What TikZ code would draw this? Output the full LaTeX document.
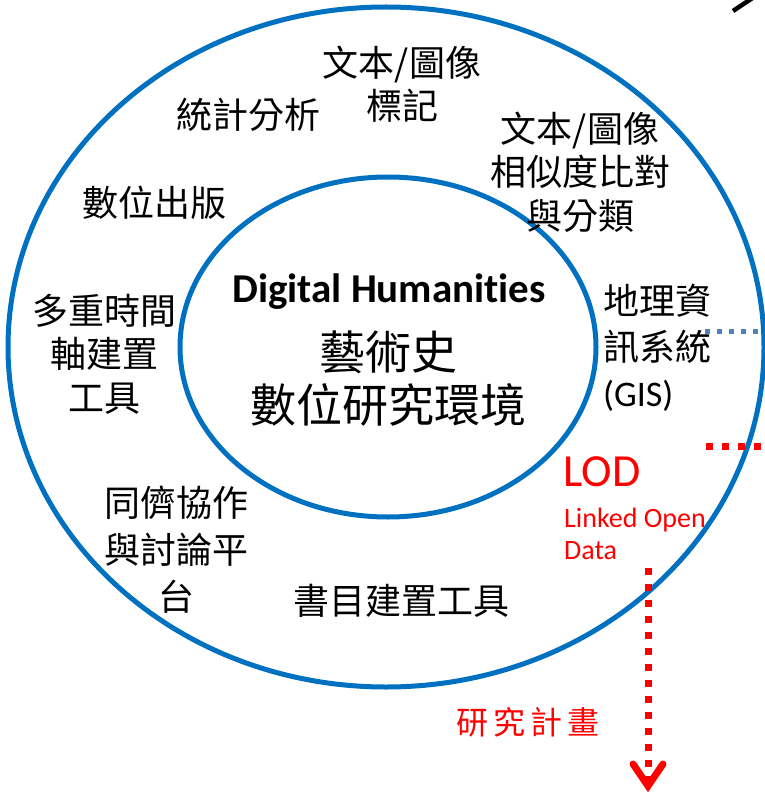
\documentclass[tikz,border=0pt]{standalone}
\usepackage{fontspec}
\setmainfont{Carlito}[Ligatures=NoCommon]
\newfontfamily\cjk{Noto Sans CJK TC}
\usetikzlibrary{shapes.geometric,calc}
\definecolor{ringblue}{HTML}{0070C0}
\definecolor{dotblue}{HTML}{4F81BD}
\definecolor{lodred}{HTML}{FF0000}
\begin{document}
\begin{tikzpicture}[x=1pt,y=-1pt,
  ring/.style={draw=ringblue,line width=5pt,ellipse,inner sep=0pt},
  lbl/.style={inner sep=0pt,align=center,font=\cjk\fontsize{36}{43.5}\selectfont,text=black},
  redlbl/.style={inner sep=0pt,text=lodred}
]
\useasboundingbox (0,0) rectangle (764,794);
\node[ring,minimum width=756pt,minimum height=680pt] (outer) at (386,347) {};
\node[ring,minimum width=416pt,minimum height=340pt] (inner) at (388,347) {};

\node[lbl] (tongji) at (248,115) {統計分析};
\node[lbl] (biaoji) at (402,84) {文本/圖像\\標記};
\node[lbl] (xiangsi) at (580,172) {文本/圖像\\相似度比對\\與分類};
\node[lbl] (chuban) at (154,203) {數位出版};
\node[lbl] (shijian) at (104,354) {多重時間\\軸建置\\工具};
\node[lbl,font=\cjk\fontsize{36}{46}\selectfont,align=left,anchor=west] (gis) at (603,348) {地理資\\訊系統\\{\normalfont(GIS)}};
\node[lbl,font=\cjk\fontsize{36}{47}\selectfont] (xiezuo) at (176,550) {同儕協作\\與討論平\\台};
\node[lbl] (shumu) at (401,601) {書目建置工具};

\node[inner sep=0pt,font=\bfseries\fontsize{41}{44}\selectfont] (dh) at (389,292) {Digital Humanities};
\node[inner sep=0pt,align=center,font=\cjk\fontsize{46}{53}\selectfont] (yishu) at (388,379) {藝術史\\數位研究環境};

\node[redlbl,anchor=west,font=\fontsize{46}{50}\selectfont] (lod) at (563,472) {LOD};
\node[redlbl,anchor=west,align=left,font=\fontsize{28}{32}\selectfont] (linked) at (564,534) {Linked Open\\Data};
\node[redlbl,font=\cjk\fontsize{32}{36}\selectfont] (plan) at (528,722) {研\hspace{5pt}究\hspace{5pt}計\hspace{5pt}畫};

\coordinate (bluestart) at (705,331);
\coordinate (blueend) at (766,331);
\coordinate (redstart) at (706,446);
\coordinate (redend) at (766,446);
\coordinate (lodtop) at (648,568);
\coordinate (lodend) at (648,786);

\draw[dotblue,line width=5pt,dash pattern=on 5pt off 7pt] (bluestart) -- (blueend);
\draw[lodred,line width=7pt,dash pattern=on 7pt off 9pt] (redstart) -- (redend);
\draw[lodred,line width=7pt,dash pattern=on 7pt off 9pt] (lodtop) -- ($(lodend)+(0,-4)$);
\draw[lodred,line width=7pt,line cap=round,line join=miter] ($(lodend)+(-15,-22)$) -- (lodend) -- ($(lodend)+(15,-22)$);

\coordinate (cuta) at (733,11);
\coordinate (cutb) at (754,-3);
\draw[black,line width=4.5pt] (cuta) -- (cutb);
\end{tikzpicture}
\end{document}
